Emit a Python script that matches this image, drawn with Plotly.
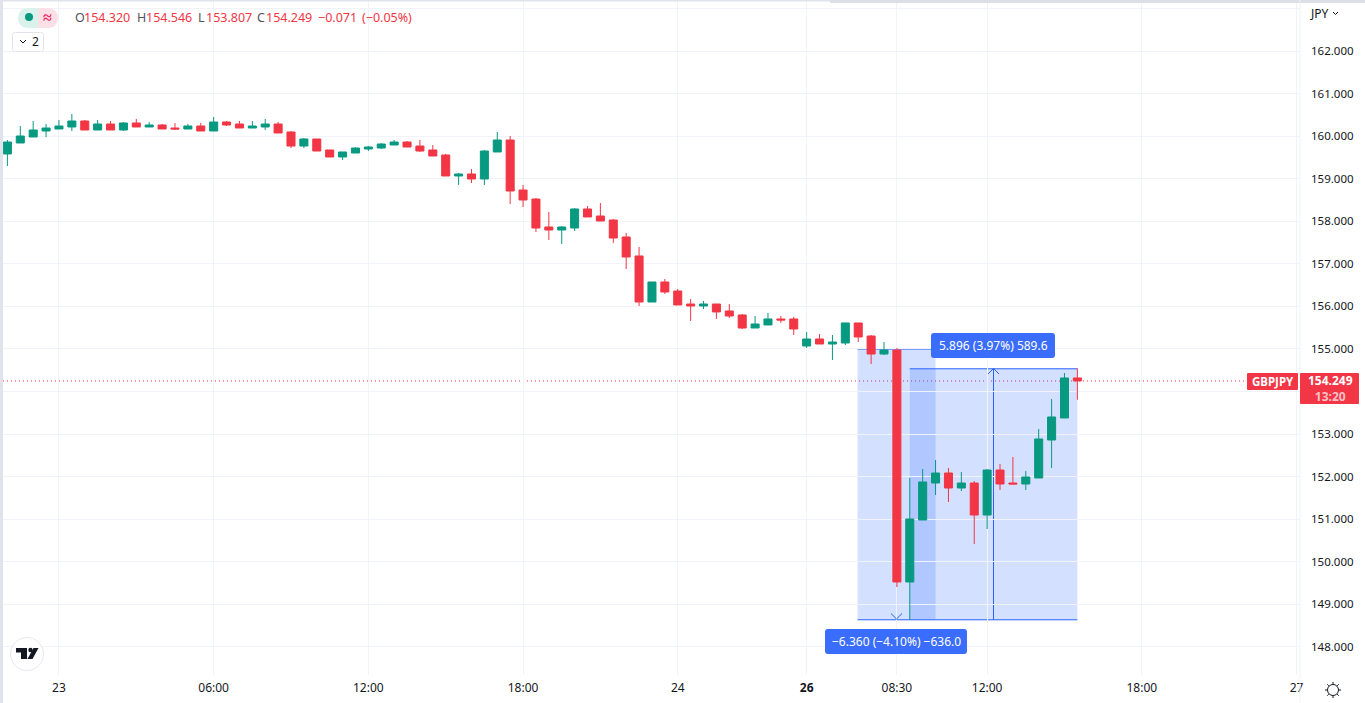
import plotly.graph_objects as go

W, H = 1365, 703

bars = list(range(84))
opens = [159.581,159.839,159.980,160.121,160.168,160.215,160.356,160.144,160.285,160.144,160.309,160.215,160.262,160.191,160.168,160.238,160.121,160.332,160.285,160.191,160.215,160.285,160.097,
         159.768,159.933,159.675,159.510,159.604,159.698,159.721,159.792,159.862,159.768,159.675,159.557,159.064,159.111,158.993,159.628,159.909,158.735,
         158.523,157.866,157.795,157.842,158.289,158.124,158.030,157.631,157.185,156.104,156.574,156.362,156.057,156.010,156.057,155.893,155.799,155.493,155.564,155.705,155.705,
         155.070,155.235,155.117,155.141,155.611,155.305,154.882,154.976,149.527,150.983,151.852,152.087,151.735,151.852,151.100,152.157,151.852,151.829,151.970,152.862,153.379,154.320]
highs = [159.909,160.238,160.356,160.285,160.379,160.520,160.379,160.379,160.356,160.332,160.403,160.332,160.285,160.309,160.285,160.309,160.450,160.356,160.356,160.356,160.403,160.332,160.121,
         159.956,159.933,159.675,159.628,159.745,159.768,159.839,159.909,159.886,159.909,159.792,159.581,159.134,159.228,159.675,160.097,160.003,158.852,
         158.547,158.218,157.889,158.312,158.359,158.429,158.054,157.725,157.396,156.574,156.644,156.409,156.175,156.128,156.057,156.057,155.822,155.775,155.846,155.775,155.752,
         155.399,155.352,155.329,155.611,155.611,155.329,155.164,155.023,151.970,152.181,152.393,152.205,152.111,151.899,152.181,152.298,152.463,152.134,153.121,153.825,154.436,154.546]
lows = [159.299,159.839,159.980,159.980,160.168,160.121,160.144,160.144,160.144,160.121,160.215,160.215,160.168,160.144,160.168,160.121,160.121,160.238,160.191,160.191,160.144,160.074,159.721,
        159.721,159.651,159.510,159.440,159.604,159.651,159.698,159.792,159.745,159.628,159.534,159.064,158.852,158.899,158.852,159.628,158.406,158.335,
        157.748,157.560,157.466,157.772,158.101,158.007,157.490,156.879,156.010,156.104,156.292,156.034,155.658,155.940,155.705,155.728,155.470,155.493,155.564,155.611,155.329,
        155.023,155.117,154.742,155.094,155.164,154.648,154.859,149.409,148.634,150.983,151.570,151.406,151.664,150.420,150.772,151.688,151.829,151.688,151.970,152.205,153.379,153.807]
closes = [159.862,160.003,160.144,160.191,160.238,160.356,160.144,160.285,160.144,160.309,160.215,160.262,160.168,160.168,160.238,160.121,160.332,160.262,160.191,160.238,160.285,160.074,159.768,
          159.933,159.651,159.510,159.628,159.721,159.745,159.815,159.862,159.745,159.651,159.534,159.064,159.111,158.993,159.651,159.909,158.711,158.500,
          157.842,157.795,157.866,158.289,158.101,158.007,157.607,157.161,156.104,156.574,156.339,156.034,156.010,156.057,155.870,155.775,155.493,155.587,155.705,155.681,155.470,
          155.235,155.117,155.164,155.611,155.282,154.882,154.976,149.527,151.007,151.876,152.087,151.735,151.852,151.100,152.157,151.829,151.829,151.993,152.886,153.403,154.319,154.249]

price_ticks = [148,149,150,151,152,153,154,155,156,157,158,159,160,161,162,163]
price_labels = ["148.000","149.000","150.000","151.000","152.000","153.000","154.000","155.000","156.000","157.000","158.000","159.000","160.000","161.000","162.000",""]
time_ticks = [4,16,28,40,52,62,69,76,88,100]
time_labels = ["23","06:00","12:00","18:00","24","<b>26</b>","08:30","12:00","18:00","27"]

last_price = 154.249
down_range = {"x0": 65.95, "x1": 72, "top": 154.999, "bottom": 148.639, "arrow_x": 68.973}
up_range = {"x0": 70, "x1": 83, "top": 154.535, "bottom": 148.639, "arrow_x": 76.495}
legend_parts = [("O", "#50535e", 74), ("154.320", "#f23645", 83), ("H", "#50535e", 135.5), ("154.546", "#f23645", 145),
                ("L", "#50535e", 197), ("153.807", "#f23645", 205), ("C", "#50535e", 256), ("154.249", "#f23645", 265),
                ("−0.071", "#f23645", 317), ("(−0.05%)", "#f23645", 360.5)]

GREEN, RED, BLUE, GRID = "#089981", "#f23645", "#2962ff", "#f0f3fa"
FONT = "Noto Sans"


def px(x):
    return x / W


def py(y):
    return 1 - y / H


def path(points, close=False):
    s = "M" + " L".join(f"{px(a):.5f},{py(b):.5f}" for a, b in points)
    return s + (" Z" if close else "")


def rrect(x0, y0, x1, y1, r):
    k = r * 0.3
    return (f"M{px(x0+r):.5f},{py(y0):.5f} L{px(x1-r):.5f},{py(y0):.5f} "
            f"C{px(x1-k):.5f},{py(y0):.5f} {px(x1):.5f},{py(y0+k):.5f} {px(x1):.5f},{py(y0+r):.5f} "
            f"L{px(x1):.5f},{py(y1-r):.5f} C{px(x1):.5f},{py(y1-k):.5f} {px(x1-k):.5f},{py(y1):.5f} {px(x1-r):.5f},{py(y1):.5f} "
            f"L{px(x0+r):.5f},{py(y1):.5f} C{px(x0+k):.5f},{py(y1):.5f} {px(x0):.5f},{py(y1-k):.5f} {px(x0):.5f},{py(y1-r):.5f} "
            f"L{px(x0):.5f},{py(y0+r):.5f} C{px(x0):.5f},{py(y0+k):.5f} {px(x0+k):.5f},{py(y0):.5f} {px(x0+r):.5f},{py(y0):.5f} Z")


shapes = []


def pshape(d, fill=None, line=None, width=1, layer="above"):
    shapes.append(dict(type="path", xref="paper", yref="paper", path=d, fillcolor=fill or "rgba(0,0,0,0)",
                       line=dict(color=line or "rgba(0,0,0,0)", width=width if line else 0), layer=layer))


def circle(cx, cy, r, fill=None, line=None, width=1):
    shapes.append(dict(type="circle", xref="paper", yref="paper", x0=px(cx-r), x1=px(cx+r), y0=py(cy+r), y1=py(cy-r),
                       fillcolor=fill or "rgba(0,0,0,0)", line=dict(color=line or "rgba(0,0,0,0)", width=width if line else 0), layer="above"))


for rng in (down_range, up_range):
    shapes.append(dict(type="rect", xref="x", yref="y", x0=rng["x0"], x1=rng["x1"], y0=rng["bottom"], y1=rng["top"],
                       fillcolor="rgba(41,98,255,0.2)", line=dict(width=0), layer="below"))
    shapes.append(dict(type="line", xref="x", yref="y", x0=rng["x0"], x1=rng["x1"], y0=rng["top"], y1=rng["top"],
                       line=dict(color=BLUE, width=1), layer="below"))
    shapes.append(dict(type="line", xref="x", yref="y", x0=rng["arrow_x"], x1=rng["arrow_x"], y0=rng["bottom"], y1=rng["top"],
                       line=dict(color=BLUE, width=1), layer="below"))
shapes.append(dict(type="line", xref="x", yref="y", x0=down_range["x0"], x1=up_range["x1"], y0=down_range["bottom"], y1=down_range["bottom"],
                   line=dict(color=BLUE, width=1), layer="below"))
shapes.append(dict(type="line", xref="paper", yref="y", x0=px(3), x1=px(1247), y0=last_price, y1=last_price,
                   line=dict(color=RED, width=1, dash="1px,3px"), layer="below"))
pshape(path([(891, 613.5), (896.5, 619), (902, 613.5)]), line=BLUE)
pshape(path([(988, 374), (993.5, 368.5), (999, 374)]), line=BLUE)

# chrome
pshape(path([(0, 0), (3, 0), (3, H), (0, H)], True), fill="#e0e3eb")
pshape(path([(0, 0), (W, 0), (W, 1.5), (0, 1.5)], True), fill="#e0e3eb")
pshape(path([(830, 0), (W, 0), (W, 3), (830, 3)], True), fill="#dcdfe6")
pshape(path([(1300, 0), (1300, 703)]), line=GRID)

# labels
pshape(rrect(931, 333, 1055, 358, 3), fill="#3a6dfb")
pshape(rrect(825, 629, 967, 654, 3), fill="#3a6dfb")
pshape(rrect(1247, 373, 1298, 390, 1.5), fill=RED)
pshape(rrect(1300, 373, 1359, 404, 1.5), fill=RED)

# legend toggle pill
pshape(f"M{px(38):.5f},{py(8):.5f} L{px(28):.5f},{py(8):.5f} C{px(22):.5f},{py(8):.5f} {px(18):.5f},{py(12):.5f} {px(18):.5f},{py(18):.5f} "
       f"C{px(18):.5f},{py(24):.5f} {px(22):.5f},{py(28):.5f} {px(28):.5f},{py(28):.5f} L{px(38):.5f},{py(28):.5f} Z", fill="#daf2ec")
pshape(f"M{px(38):.5f},{py(8):.5f} L{px(48):.5f},{py(8):.5f} C{px(54):.5f},{py(8):.5f} {px(58):.5f},{py(12):.5f} {px(58):.5f},{py(18):.5f} "
       f"C{px(58):.5f},{py(24):.5f} {px(54):.5f},{py(28):.5f} {px(48):.5f},{py(28):.5f} L{px(38):.5f},{py(28):.5f} Z", fill="#fce0e8")
circle(29, 17, 4, fill=GREEN)
pshape(rrect(12.5, 32.5, 43.5, 51.5, 3), fill="#ffffff", line="#e0e3eb")
pshape(path([(20, 40), (23, 43), (26, 40)]), line="#131722")
pshape(path([(1333, 12), (1335.5, 14.5), (1338, 12)]), line="#131722")

# logo
circle(27, 654, 16.5, fill="#ffffff", line="#e6e8ee")
pshape(path([(16, 648), (27, 648), (27, 659), (21, 659), (21, 652.5), (16, 652.5)], True), fill="#131722")
circle(30.5, 650, 2.2, fill="#131722")
pshape(path([(33.5, 648), (38.5, 648), (32.5, 659), (27.5, 659)], True), fill="#131722")

# settings sun icon
circle(1333, 690, 5.5, line="#131722")
for a, b, c, d in [(1333, 682, 1333, 684), (1333, 696, 1333, 698), (1325, 690, 1327, 690), (1339, 690, 1341, 690),
                   (1327.3, 684.3, 1328.8, 685.8), (1337.2, 694.2, 1338.7, 695.7), (1327.3, 695.7, 1328.8, 694.2), (1337.2, 685.8, 1338.7, 684.3)]:
    pshape(path([(a, b), (c, d)]), line="#131722")

annotations = []


def text(x, y, s, color="#131722", size=12, anchor="left", bold=False):
    annotations.append(dict(xref="paper", yref="paper", x=px(x), y=py(y), text=f"<b>{s}</b>" if bold else s, showarrow=False,
                            xanchor=anchor, yanchor="middle", borderpad=0,
                            font=dict(family=FONT, size=size, color=color)))


for s, c, x in legend_parts:
    text(x, 18, s, c, 12.5)
text(47.5, 17, "≈", "#e91e63", 16, "center", True)
text(35, 41.5, "2", "#131722", 12, "center")
text(1309, 13, "JPY", "#131722", 12)
text(993, 345.5, "5.896 (3.97%) 589.6", "#ffffff", 12, "center")
text(896, 641.5, "−6.360 (−4.10%) −636.0", "#ffffff", 12, "center")
text(1272.5, 381.5, "GBPJPY", "#ffffff", 11.5, "center", True)
text(1330, 388.5, "<b>154.249</b><br><span style='color:#fbc1c7'><b>13:20</b></span>", "#ffffff", 12, "center")

fig = go.Figure(go.Candlestick(
    x=bars, open=opens, high=highs, low=lows, close=closes, whiskerwidth=0,
    increasing=dict(line=dict(color=GREEN, width=1), fillcolor=GREEN),
    decreasing=dict(line=dict(color=RED, width=1), fillcolor=RED),
    hoverinfo="skip",
))
fig.update_layout(
    width=W, height=H, margin=dict(l=0, r=0, t=0, b=0, pad=0), paper_bgcolor="#ffffff", plot_bgcolor="#ffffff",
    showlegend=False, hovermode=False, shapes=shapes, annotations=annotations, boxgap=0.22, boxgroupgap=0.2,
    xaxis=dict(domain=[3/W, 1300/W], range=[-0.341, 100.27], rangeslider=dict(visible=False), tickmode="array",
               tickvals=time_ticks, ticktext=time_labels, showgrid=True, gridcolor=GRID, gridwidth=1, zeroline=False,
               ticks="", showline=False, tickfont=dict(family=FONT, size=12, color="#131722"), ticklabelstandoff=4,
               anchor="y", automargin=False),
    yaxis=dict(domain=[28/H, 1], range=[147.342, 163.198], side="right", tickmode="array", tickvals=price_ticks,
               ticktext=price_labels, showgrid=True, gridcolor=GRID, gridwidth=1, zeroline=False, ticks="", showline=False,
               tickfont=dict(family=FONT, size=11.5, color="#131722"), ticklabelstandoff=10, anchor="x", automargin=False),
)
fig.write_html("out.html", config=dict(displayModeBar=False), post_script="document.body.style.margin='0';")
